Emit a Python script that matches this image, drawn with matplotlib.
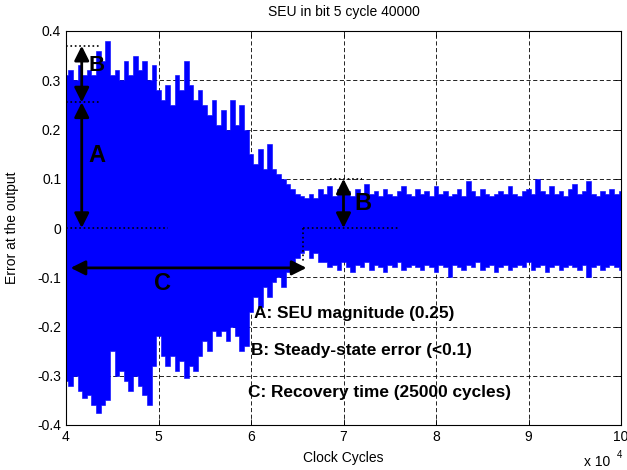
import numpy as np
import matplotlib
matplotlib.use("Agg")
import matplotlib.pyplot as plt

# ---- data (x in units of 10^4 clock cycles) ----
upper_env = [0.31, 0.32, 0.30, 0.33, 0.31, 0.32, 0.31, 0.36, 0.34, 0.38,
             0.31, 0.32, 0.30, 0.34, 0.31, 0.35, 0.32, 0.34, 0.30, 0.33,
             0.28, 0.26, 0.29, 0.25, 0.31, 0.28, 0.34, 0.29, 0.26, 0.28,
             0.25, 0.23, 0.26, 0.21, 0.24, 0.20, 0.26, 0.21, 0.25, 0.20,
             0.15, 0.13, 0.16, 0.12, 0.17, 0.12, 0.11, 0.10, 0.09, 0.08,
             0.07, 0.065, 0.06, 0.07, 0.06, 0.08,
             0.07, 0.085, 0.065, 0.08, 0.07, 0.075, 0.065, 0.08, 0.07, 0.09,
             0.07, 0.075, 0.065, 0.08, 0.07, 0.065, 0.075, 0.085, 0.07, 0.065,
             0.08, 0.07, 0.075, 0.065, 0.085, 0.07, 0.075, 0.065, 0.07, 0.08,
             0.065, 0.095, 0.075, 0.065, 0.08, 0.07, 0.065, 0.07, 0.075, 0.07,
             0.085, 0.07, 0.065, 0.075, 0.08, 0.07, 0.10, 0.075, 0.07, 0.085,
             0.07, 0.075, 0.065, 0.08, 0.09, 0.07, 0.075, 0.095, 0.07, 0.065,
             0.075, 0.07, 0.08, 0.07, 0.075]
lower_env = [-0.31, -0.32, -0.30, -0.33, -0.345, -0.34, -0.36, -0.375, -0.36, -0.35,
             -0.25, -0.30, -0.29, -0.31, -0.33, -0.30, -0.32, -0.34, -0.36, -0.28,
             -0.22, -0.26, -0.28, -0.26, -0.29, -0.27, -0.305, -0.28, -0.29, -0.26,
             -0.23, -0.25, -0.21, -0.22, -0.21, -0.23, -0.20, -0.22, -0.25, -0.24,
             -0.17, -0.14, -0.16, -0.12, -0.14, -0.11, -0.10, -0.12, -0.09, -0.08,
             -0.06, -0.05, -0.045, -0.06, -0.05, -0.07,
             -0.07, -0.08, -0.075, -0.085, -0.07, -0.08, -0.09, -0.075, -0.08, -0.07,
             -0.085, -0.075, -0.08, -0.09, -0.075, -0.08, -0.07, -0.085, -0.08, -0.075,
             -0.08, -0.085, -0.075, -0.08, -0.09, -0.075, -0.08, -0.10, -0.075, -0.08,
             -0.085, -0.075, -0.08, -0.07, -0.085, -0.08, -0.075, -0.09, -0.08, -0.075,
             -0.085, -0.08, -0.075, -0.08, -0.07, -0.085, -0.08, -0.075, -0.09, -0.08,
             -0.075, -0.085, -0.08, -0.075, -0.08, -0.085, -0.075, -0.10, -0.08, -0.075,
             -0.085, -0.08, -0.075, -0.08, -0.085]
x_cycles = np.linspace(4.0, 10.0, len(upper_env))

x_ticks = [4, 5, 6, 7, 8, 9, 10]
x_ticklabels = ["4", "5", "6", "7", "8", "9", "10"]
y_ticks = [-0.4, -0.3, -0.2, -0.1, 0, 0.1, 0.2, 0.3, 0.4]
y_ticklabels = ["-0.4", "-0.3", "-0.2", "-0.1", "0", "0.1", "0.2", "0.3", "0.4"]

seu_top, seu_peak = 0.255, 0.37
steady_err = 0.1
recovery_start, recovery_end = 4.05, 6.6

legend_lines = ["A: SEU magnitude (0.25)",
                "B: Steady-state error (<0.1)",
                "C: Recovery time (25000 cycles)"]

# ---- figure ----
plt.rcParams['font.family'] = ['Liberation Sans', 'DejaVu Sans']
fig = plt.figure(figsize=(6.27, 4.70), dpi=100)
ax = fig.add_axes([66/627, 45/470, 555/627, 394/470])

ax.fill_between(x_cycles, lower_env, upper_env, step='mid', color='#0000ff',
                lw=0.4, edgecolor='#0000ff', zorder=2)

ax.set_xlim(4, 10)
ax.set_ylim(-0.4, 0.4)
ax.set_xticks(x_ticks)
ax.set_xticklabels(x_ticklabels, fontsize=10)
ax.set_yticks(y_ticks)
ax.set_yticklabels(y_ticklabels, fontsize=10)
ax.tick_params(direction='in', length=4, top=True, right=True, width=0.6)
for s in ax.spines.values():
    s.set_linewidth(0.8)
ax.grid(True, color='black', linestyle=(0, (5, 3)), lw=0.6, zorder=1)
ax.set_axisbelow(True)

ax.set_title("SEU in bit 5 cycle 40000", fontsize=10, pad=11)
ax.set_xlabel("Clock Cycles", fontsize=10, labelpad=5)
ax.set_ylabel("Error at the output", fontsize=10, labelpad=13)
fig.text(584/627, 1 - 462/470, "x 10", fontsize=10, ha='left', va='center')
fig.text(617/627, 1 - 455/470, "4", fontsize=7, ha='left', va='center')

# ---- annotations ----
narrow = ['Liberation Sans Narrow', 'Liberation Sans']
arrow_kw = dict(arrowstyle='<|-|>', mutation_scale=22, lw=2, color='black',
                shrinkA=0, shrinkB=0)
xa = 4.17
ax.annotate("", xy=(xa, seu_top), xytext=(xa, 0), arrowprops=arrow_kw, zorder=5)
ax.annotate("", xy=(xa, seu_peak), xytext=(xa, seu_top), arrowprops=arrow_kw, zorder=5)
ax.plot([4.0, 4.38], [seu_peak, seu_peak], ls=':', color='black', lw=1.2, zorder=5)
ax.plot([4.0, 4.38], [seu_top, seu_top], ls=':', color='black', lw=1.2, zorder=5)
ax.plot([4.0, 5.1], [0, 0], ls=':', color='black', lw=1.2, zorder=5)
ax.text(4.33, 0.148, "A", fontsize=17, fontweight='bold', family=narrow,
        ha='center', va='center', zorder=6)
ax.text(4.33, 0.33, "B", fontsize=16, fontweight='bold', family=narrow,
        ha='center', va='center', zorder=6)

ax.annotate("", xy=(recovery_start, -0.081), xytext=(recovery_end, -0.081),
            arrowprops=arrow_kw, zorder=5)
ax.text(5.04, -0.112, "C", fontsize=17, fontweight='bold', family=narrow,
        ha='center', va='center', zorder=6)

ax.annotate("", xy=(7.0, steady_err), xytext=(7.0, 0), arrowprops=arrow_kw, zorder=5)
ax.plot([6.56, 7.6], [0, 0], ls=':', color='black', lw=1.2, zorder=5)
ax.plot([6.56, 6.56], [0, -0.07], ls=':', color='black', lw=1.2, zorder=5)
ax.plot([6.85, 7.2], [steady_err, steady_err], ls=':', color='black', lw=1.2, zorder=5)
ax.text(7.21, 0.05, "B", fontsize=17, fontweight='bold', family=narrow,
        ha='center', va='center', zorder=6)

ax.text(6.03, -0.173, legend_lines[0], fontsize=12.4, fontweight='bold', family=narrow,
        ha='left', va='center', zorder=6)
ax.text(6.00, -0.248, legend_lines[1], fontsize=12.4, fontweight='bold', family=narrow,
        ha='left', va='center', zorder=6)
ax.text(5.97, -0.333, legend_lines[2], fontsize=12.4, fontweight='bold', family=narrow,
        ha='left', va='center', zorder=6)

fig.savefig("out.png", dpi=100)
